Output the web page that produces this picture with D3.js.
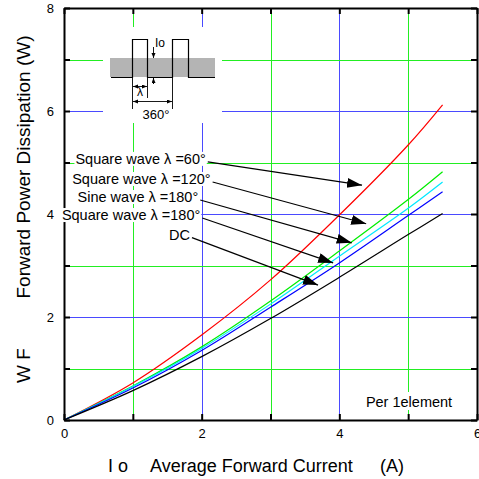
<!DOCTYPE html>
<html><head><meta charset="utf-8">
<script src="https://cdn.jsdelivr.net/npm/d3@7"></script>
<style>html,body{margin:0;padding:0;background:#fff;}svg{display:block;font-family:"Liberation Sans",Arial,sans-serif;}</style>
</head><body>
<script>
// ---- data ----
const currents = [0, 1, 2, 3, 4, 5, 5.5];
const sq60    = [0, 0.72, 1.65, 2.72, 3.98, 5.34, 6.12];
const sq120   = [0, 0.66, 1.42, 2.31, 3.28, 4.28, 4.82];
const sine180 = [0, 0.65, 1.39, 2.25, 3.18, 4.11, 4.62];
const sq180   = [0, 0.62, 1.35, 2.19, 3.05, 3.97, 4.43];
const dcVals  = [0, 0.57, 1.23, 1.97, 2.77, 3.60, 4.01];
const seriesNames = ["Square wave \u03bb =60\u00b0", "Square wave \u03bb =120\u00b0", "Sine wave \u03bb =180\u00b0", "Square wave \u03bb =180\u00b0", "DC"];
const seriesValues = [sq60, sq120, sine180, sq180, dcVals];
const seriesColors = ["#ff0000", "#00ee00", "#00e8ff", "#0000ff", "#000000"];
// arrow tip positions (data units) and label anchor (data units)
const tipI = [4.33, 4.39, 4.18, 3.91, 3.69];
const tipP = [4.56, 3.81, 3.44, 3.05, 2.62];
const labelEndI = [2.06, 2.13, 1.95, 1.98, 1.83];
const labelP = [5.07, 4.68, 4.33, 3.98, 3.60];
const xTicks = [0, 1, 2, 3, 4, 5, 6];
const yTicks = [0, 1, 2, 3, 4, 5, 6, 7, 8];
const xTickLabels = [0, 2, 4, 6];
const yTickLabels = [0, 2, 4, 6, 8];

const W = 479, H = 479;
const svg = d3.select("body").append("svg").attr("width", W).attr("height", H);
const x = d3.scaleLinear().domain([0, 6]).range([64, 477]);
const y = d3.scaleLinear().domain([0, 8]).range([420, 8]);

// grid
const gridX = xTicks.filter(v => v > 0 && v < 6);
const gridY = yTicks.filter(v => v > 0 && v < 8);
const gcol = v => (v % 2 === 1 ? "#22ee22" : "#4a4aff");
svg.append("g").selectAll("line").data(gridX).join("line")
  .attr("x1", d => Math.round(x(d)) + 0.5).attr("x2", d => Math.round(x(d)) + 0.5)
  .attr("y1", y(8)).attr("y2", y(0)).attr("stroke", gcol).attr("stroke-width", 1);
svg.append("g").selectAll("line").data(gridY).join("line")
  .attr("y1", d => Math.round(y(d)) + 0.5).attr("y2", d => Math.round(y(d)) + 0.5)
  .attr("x1", x(0)).attr("x2", x(6)).attr("stroke", gcol).attr("stroke-width", 1);

// curves
const line = d3.line().x(d => x(d[0])).y(d => y(d[1])).curve(d3.curveCatmullRom.alpha(0.5));
seriesValues.forEach((vals, i) => {
  svg.append("path").datum(currents.map((c, j) => [c, vals[j]]))
    .attr("d", line).attr("fill", "none").attr("stroke", seriesColors[i]).attr("stroke-width", 1.2);
});

// axes frame with inward ticks
const axB = d3.axisBottom(x).tickValues(xTicks).tickSizeInner(-6).tickSizeOuter(0).tickFormat(d => xTickLabels.includes(d) ? d : "").tickPadding(9);
const axT = d3.axisTop(x).tickValues(xTicks).tickSizeInner(-6).tickSizeOuter(0).tickFormat("");
const axL = d3.axisLeft(y).tickValues(yTicks).tickSizeInner(-6).tickSizeOuter(0).tickFormat(d => yTickLabels.includes(d) ? d : "").tickPadding(10);
const axR = d3.axisRight(y).tickValues(yTicks).tickSizeInner(-6).tickSizeOuter(0).tickFormat("");
function styleAx(g) {
  g.select(".domain").attr("stroke", "#000").attr("stroke-width", 2);
  g.selectAll(".tick line").attr("stroke", "#000").attr("stroke-width", 2);
  g.selectAll(".tick text").attr("font-size", 13).attr("fill", "#000").attr("font-family", "Liberation Sans, Arial, sans-serif");
}
svg.append("g").attr("transform", `translate(0,${y(0)})`).call(axB).call(styleAx);
svg.append("g").attr("transform", `translate(0,${y(8)})`).call(axT).call(styleAx);
svg.append("g").attr("transform", `translate(${x(0)},0)`).call(axL).call(styleAx);
svg.append("g").attr("transform", `translate(${x(6)},0)`).call(axR).call(styleAx);

// axis titles
const xt = svg.append("text").attr("y", 472).attr("font-size", 18).attr("fill", "#000");
xt.append("tspan").attr("x", 108).text("I o");
xt.append("tspan").attr("x", 150).text("Average Forward Current");
xt.append("tspan").attr("x", 380).text("(A)");
const yt = svg.append("g").attr("transform", "translate(30,0) rotate(-90)");
yt.append("text").attr("x", -383).attr("font-size", 19).attr("fill", "#000").text("W F");
yt.append("text").attr("x", -185).attr("text-anchor", "middle").attr("font-size", 19).attr("fill", "#000").text("Forward Power Dissipation");
yt.append("text").attr("x", -66).attr("font-size", 19).attr("fill", "#000").text("(W)");

// arrow marker
svg.append("defs").append("marker").attr("id", "ah").attr("markerUnits", "userSpaceOnUse")
  .attr("markerWidth", 16).attr("markerHeight", 12).attr("refX", 15).attr("refY", 5)
  .attr("orient", "auto").append("path").attr("d", "M0,0 L15,5 L0,10 Z").attr("fill", "#000");

// annotations
seriesNames.forEach((name, i) => {
  const t = svg.append("text").attr("x", x(labelEndI[i])).attr("y", y(labelP[i]) + 5)
    .attr("text-anchor", "end").attr("font-size", 14.5).attr("fill", "#000").text(name);
  const bb = t.node().getBBox();
  svg.insert("rect", () => t.node()).attr("x", bb.x - 1).attr("y", bb.y + 1).attr("width", bb.width + 2).attr("height", bb.height - 2).attr("fill", "#fff");
  svg.append("line").attr("x1", x(labelEndI[i]) + 2).attr("y1", y(labelP[i]) + 3)
    .attr("x2", x(tipI[i])).attr("y2", y(tipP[i])).attr("stroke", "#000").attr("stroke-width", 1.2)
    .attr("marker-end", "url(#ah)");
});

// Per 1element
const pe = svg.append("text").attr("x", 409).attr("y", 407).attr("text-anchor", "middle").attr("font-size", 14.5).attr("fill", "#000").text("Per 1element");
const pb = pe.node().getBBox();
svg.insert("rect", () => pe.node()).attr("x", pb.x - 3).attr("y", 392).attr("width", pb.width + 6).attr("height", 18).attr("fill", "#fff");

// inset waveform diagram
const ins = svg.append("g");
ins.append("rect").attr("x", 103).attr("y", 27).attr("width", 119).attr("height", 96).attr("fill", "#fff");
ins.append("rect").attr("x", 110).attr("y", 58).attr("width", 105).attr("height", 19).attr("fill", "#b4b4b4");
ins.append("path").attr("d", "M111,77.5 H132.5 V39.5 H147.5 V77.5 H172.5 V39.5 H188.5 V77.5 H215")
  .attr("fill", "none").attr("stroke", "#000").attr("stroke-width", 1.2);
// extension lines
ins.append("path").attr("d", "M132.5,77 V109 M147.5,77 V98 M172.5,77 V109 M153.5,77 V84")
  .attr("stroke", "#000").attr("stroke-width", 0.9).attr("fill", "none");
// small arrowheads
ins.append("defs").append("marker").attr("id", "sa").attr("markerUnits", "userSpaceOnUse")
  .attr("markerWidth", 6).attr("markerHeight", 6).attr("refX", 5).attr("refY", 2)
  .attr("orient", "auto-start-reverse").append("path").attr("d", "M0,0 L5,2 L0,4 Z").attr("fill", "#000");
ins.append("line").attr("x1", 133).attr("x2", 147).attr("y1", 86.5).attr("y2", 86.5).attr("stroke", "#000").attr("stroke-width", 0.9)
  .attr("marker-start", "url(#sa)").attr("marker-end", "url(#sa)");
ins.append("line").attr("x1", 133).attr("x2", 172).attr("y1", 101.5).attr("y2", 101.5).attr("stroke", "#000").attr("stroke-width", 0.9)
  .attr("marker-start", "url(#sa)").attr("marker-end", "url(#sa)");
ins.append("line").attr("x1", 153.5).attr("x2", 153.5).attr("y1", 47).attr("y2", 58).attr("stroke", "#000").attr("stroke-width", 0.9)
  .attr("marker-end", "url(#sa)");
ins.append("line").attr("x1", 153.5).attr("x2", 153.5).attr("y1", 84).attr("y2", 78).attr("stroke", "#000").attr("stroke-width", 0.9)
  .attr("marker-end", "url(#sa)");
ins.append("text").attr("x", 155).attr("y", 47).attr("font-size", 12).attr("fill", "#000").text("Io");
ins.append("text").attr("x", 140).attr("y", 96).attr("text-anchor", "middle").attr("font-size", 12).attr("fill", "#000").text("\u03bb");
ins.append("text").attr("x", 156).attr("y", 119).attr("text-anchor", "middle").attr("font-size", 13).attr("fill", "#000").text("360\u00b0");
</script>
</body></html>
